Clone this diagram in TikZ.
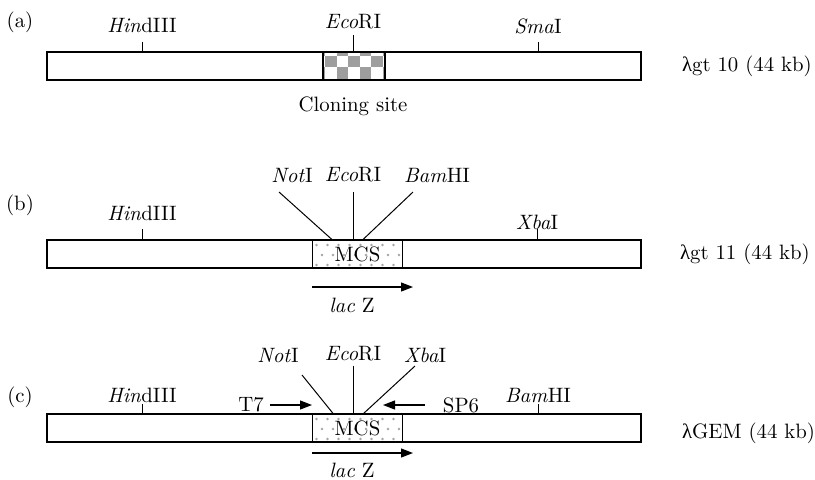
\documentclass[tikz,border=0pt]{standalone}
\usepackage{fontspec}
\newfontfamily\greekfont{Liberation Serif}
\usetikzlibrary{arrows.meta,positioning}
\definecolor{checkgray}{RGB}{158,158,158}
\definecolor{dotgray}{RGB}{165,165,165}
\newcommand{\lam}{{\greekfont λ}}

\begin{document}
\begin{tikzpicture}[x=0.5pt,y=-0.5pt,font=\fontsize{10.4}{12}\selectfont,
  vec/.style={draw,line width=0.7pt,fill=white,inner sep=0pt,outer sep=0pt,minimum width=297pt,minimum height=14pt},
  insert/.style={draw,line width=0.7pt,inner sep=0pt,outer sep=0pt,minimum height=14pt},
  site/.style={inner sep=1pt},
  lead/.style={line width=0.5pt},
  dir/.style={line width=0.6pt,-{Triangle[length=6pt,width=4.5pt]}},
  checks/.style={path picture={\foreach \col in {-1,...,5}{\foreach \row in {-1,0,1}{\pgfmathtruncatemacro{\k}{mod(\col+\row+2,2)}\ifnum\k=0 \fill[checkgray] ([xshift={1pt+\col*5.75pt},yshift={-1.75pt-\row*5.75pt}]path picture bounding box.north west) rectangle ++(5.75pt,-5.75pt);\fi}}}},
  dots/.style={path picture={\foreach \col in {0,...,8}{\foreach \row in {0,1,2}{\pgfmathsetmacro{\off}{mod(\row,2)*2.75}\fill[dotgray] ([xshift={2pt+\col*5.5pt+\off pt},yshift={-2.5pt-\row*5pt}]path picture bounding box.north west) circle[radius=0.65pt];}}}}]
\useasboundingbox (0,0) rectangle (815,479);

% (a) lambda gt10
\node (alab) at (20,22) {(a)};
\node[vec] (abar) at (344,66) {};
\node[insert,checks,minimum width=31pt] (aclone) at (354,66) {};
\node[site] (ahind) at (142,25) {\textit{Hin}dIII};
\node[site] (aeco) at (353,22) {\textit{Eco}RI};
\node[site] (asma) at (538,26) {\textit{Sma}I};
\draw[lead] (ahind |- abar.north) -- ++(0,-10);
\draw[lead] (aeco |- abar.north) -- ++(0,-17);
\draw[lead] (asma |- abar.north) -- ++(0,-10);
\node (aclonelab) at (353,106) {Cloning site};
\node[anchor=west] (aname) at (675,66) {\lam gt 10 (44 kb)};

% (b) lambda gt11
\node (blab) at (20,205) {(b)};
\node[vec] (bbar) at (344,254) {};
\node[insert,dots,minimum width=45pt] (bmcs) at (357.5,254) {MCS};
\node[site] (bhind) at (142,213) {\textit{Hin}dIII};
\node[site] (bxba) at (537,222) {\textit{Xba}I};
\draw[lead] (bhind |- bbar.north) -- ++(0,-11);
\draw[lead] (bxba |- bbar.north) -- ++(0,-11);
\node[site] (bnot) at (292,175) {\textit{Not}I};
\node[site] (beco) at (353,175) {\textit{Eco}RI};
\node[site] (bbam) at (437,175) {\textit{Bam}HI};
\coordinate (bnot1) at (279,192);
\coordinate (beco1) at (353,192);
\coordinate (bbam1) at (413,192);
\draw[lead] (bnot1) -- ([xshift=-12.5pt]bmcs.north);
\draw[lead] (beco1) -- (beco1 |- bmcs.north);
\draw[lead] (bbam1) -- ([xshift=2.5pt]bmcs.north);
\coordinate (blac1) at (312,287);
\coordinate (blac2) at (413,287);
\draw[dir] (blac1) -- (blac2);
\node (blac) at (352,305) {\textit{lac} Z};
\node[anchor=west] (bname) at (673,254) {\lam gt 11 (44 kb)};

% (c) lambda GEM
\node (clab) at (20,397) {(c)};
\node[vec] (cbar) at (344,428) {};
\node[insert,dots,minimum width=45pt] (cmcs) at (357.5,428) {MCS};
\node[site] (chind) at (142,395) {\textit{Hin}dIII};
\node[site] (cbam) at (538,395) {\textit{Bam}HI};
\draw[lead] (chind |- cbar.north) -- ++(0,-10);
\draw[lead] (cbam |- cbar.north) -- ++(0,-10);
\node[site] (cnot) at (278,355) {\textit{Not}I};
\node[site] (ceco) at (353,354) {\textit{Eco}RI};
\node[site] (cxba) at (425,355) {\textit{Xba}I};
\coordinate (cnot1) at (302,375);
\coordinate (ceco1) at (353,366);
\coordinate (cxba1) at (415,366);
\draw[lead] (cnot1) -- ([xshift=-12pt]cmcs.north);
\draw[lead] (ceco1) -- (ceco1 |- cmcs.north);
\draw[lead] (cxba1) -- ([xshift=2.75pt]cmcs.north);
\node[site] (ct7) at (251,405) {T7};
\node[site] (csp6) at (461,405) {SP6};
\coordinate (ct7end) at (312,405);
\coordinate (csp61) at (425,405);
\coordinate (csp6end) at (383,405);
\draw[dir,shorten <=2pt] (ct7.east) -- (ct7end);
\draw[dir] (csp61) -- (csp6end);
\coordinate (clac1) at (312,453);
\coordinate (clac2) at (413,453);
\draw[dir] (clac1) -- (clac2);
\node (clac) at (352,470) {\textit{lac} Z};
\node[anchor=west] (cname) at (675,433) {\lam GEM (44 kb)};
\end{tikzpicture}
\end{document}
